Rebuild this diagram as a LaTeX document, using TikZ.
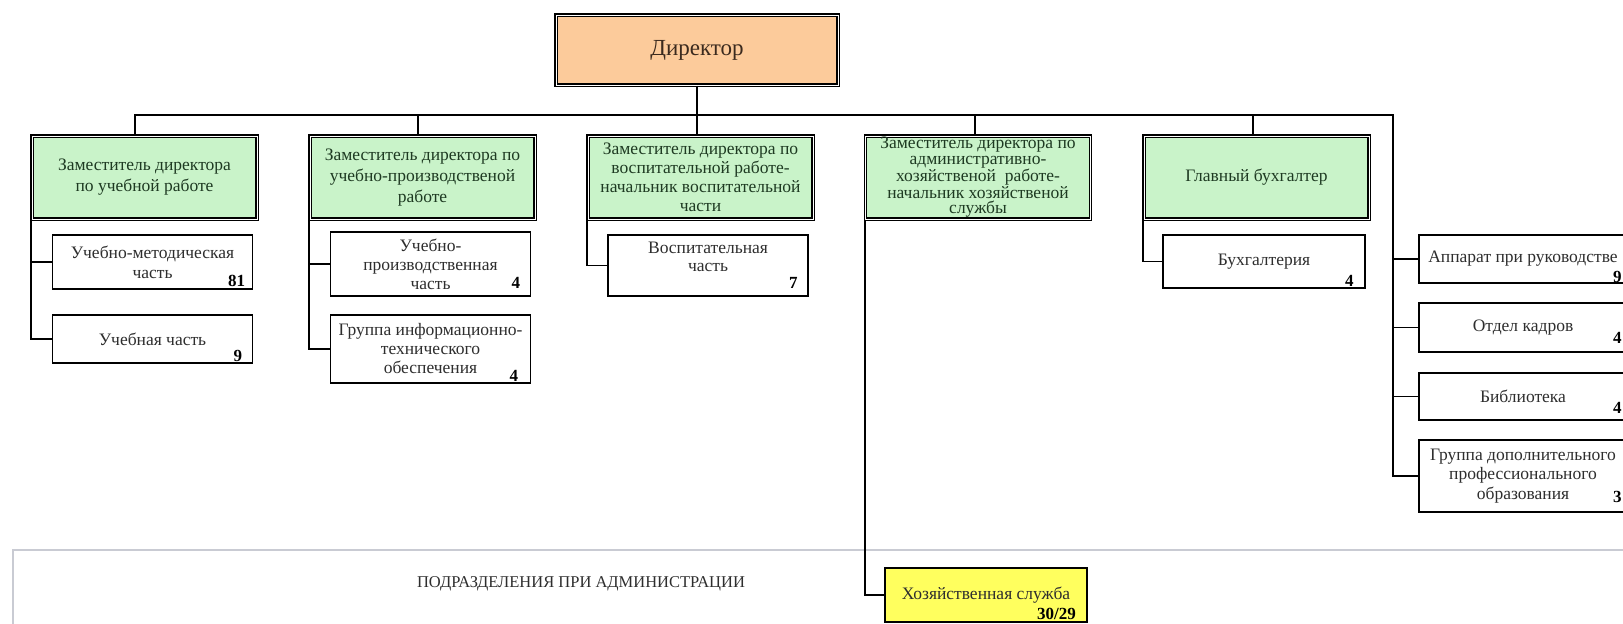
\documentclass[tikz,border=0pt]{standalone}
\usepackage{fontspec}
\setmainfont{Liberation Serif}
\definecolor{dirfill}{HTML}{FCCB9B}
\definecolor{depfill}{HTML}{C9F3C9}
\definecolor{yelfill}{HTML}{FFFF5E}
\definecolor{dirtext}{HTML}{3B2A1E}
\definecolor{deptext}{HTML}{1E3A22}
\definecolor{subtext}{HTML}{2E2E2E}
\definecolor{panelgray}{HTML}{C9CBD3}
\begin{document}
\begin{tikzpicture}[x=1pt,y=-1pt,
  dirbox/.style={draw=black,line width=1.4pt,double=white,double distance=1pt,fill=dirfill,minimum width=282pt,minimum height=70pt,inner sep=0pt,text=dirtext,font=\fontsize{23}{26}\selectfont},
  depbox/.style={draw=black,line width=1.3pt,double=white,double distance=0.9pt,fill=depfill,minimum width=225pt,minimum height=83pt,inner sep=1pt,align=center,text=deptext},
  subbox/.style={draw=black,line width=1.5pt,fill=white,minimum width=200pt,inner sep=1pt,align=center,text=subtext,font=\fontsize{17.5}{20}\selectfont},
  rbox/.style={subbox,minimum width=208pt},
  num/.style={inner sep=0pt,font=\bfseries\fontsize{17}{17}\selectfont,text=black},
  conn/.style={draw=black,line width=1.8pt},
  panelline/.style={draw=panelgray,line width=1.2pt},
]
\useasboundingbox (0,0) rectangle (1623,624);
\clip (0,0) rectangle (1623,624);
\fill[white] (0,0) rectangle (1623,624);

% bottom panel
\draw[panelline] (13,624) -- (13,550) -- (1623,550);
\node[text=subtext,font=\fontsize{16.5}{18}\selectfont,inner sep=0pt] (ptitle) at (581,584) {ПОДРАЗДЕЛЕНИЯ ПРИ АДМИНИСТРАЦИИ};

% director
\node[dirbox] (dir) at (697,50) {Директор};

% deputies
\node[depbox,font=\fontsize{17.5}{21}\selectfont] (d1) at (144.5,177.5) {Заместитель директора\\по учебной работе};
\node[depbox,font=\fontsize{17.5}{21}\selectfont] (d2) at (422.5,177.5) {Заместитель директора по\\учебно-производственой\\работе};
\node[depbox,font=\fontsize{17.5}{19}\selectfont] (d3) at (700.5,177.5) {Заместитель директора по\\воспитательной работе-\\начальник воспитательной\\части};
\node[depbox,font=\fontsize{17.5}{15.5}\selectfont] (d4) at (978,177.5) {Заместитель директора по\\административно-\\хозяйственой\ \ работе-\\начальник хозяйственой\\службы};
\node[depbox,font=\fontsize{17.5}{21}\selectfont] (d5) at (1256.5,177.5) {Главный бухгалтер};

% sub units
\node[subbox,minimum height=54pt] (s11) at (152.5,262) {Учебно-методическая\\часть};
\node[subbox,minimum height=48pt] (s12) at (152.5,339) {Учебная часть};
\node[subbox,minimum height=64pt,font=\fontsize{17.5}{19}\selectfont] (s21) at (430.5,264) {Учебно-\\производственная\\часть};
\node[subbox,minimum height=68pt,font=\fontsize{17.5}{19}\selectfont] (s22) at (430.5,349) {Группа информационно-\\технического\\обеспечения};
\node[subbox,minimum height=61pt,font=\fontsize{17.5}{18}\selectfont] (s31) at (708,265.5) {Воспитательная\\часть\\\mbox{}};
\node[subbox,minimum width=202pt,minimum height=54pt,fill=yelfill,line width=2pt] (s41) at (986,595) {Хозяйственная служба};
\node[subbox,minimum width=202pt,minimum height=53pt] (s51) at (1264,261.5) {Бухгалтерия};

% right column
\node[rbox,minimum height=48pt] (r1) at (1523,259) {Аппарат при руководстве};
\node[rbox,minimum height=49pt] (r2) at (1523,327.5) {Отдел кадров};
\node[rbox,minimum height=47pt] (r3) at (1523,396.5) {Библиотека};
\node[rbox,minimum height=72pt,font=\fontsize{17.5}{19.5}\selectfont] (r4) at (1523,476) {Группа дополнительного\\профессионального\\образования};

% numbers
\node[num,anchor=base east] (n11) at ([xshift=-8pt,yshift=3pt]s11.south east) {81};
\node[num,anchor=base east] (n12) at ([xshift=-11pt,yshift=2pt]s12.south east) {9};
\node[num,anchor=base east] (n21) at ([xshift=-11pt,yshift=8pt]s21.south east) {4};
\node[num,anchor=base east] (n22) at ([xshift=-13pt,yshift=2pt]s22.south east) {4};
\node[num,anchor=base east] (n31) at ([xshift=-11pt,yshift=8pt]s31.south east) {7};
\node[num,anchor=base east] (n41) at ([xshift=-12pt,yshift=4pt]s41.south east) {30/29};
\node[num,anchor=base east] (n51) at ([xshift=-12pt,yshift=2pt]s51.south east) {4};
\node[num,anchor=base east] (nr1) at ([xshift=-6pt,yshift=1pt]r1.south east) {9};
\node[num,anchor=base east] (nr2) at ([xshift=-6pt,yshift=9pt]r2.south east) {4};
\node[num,anchor=base east] (nr3) at ([xshift=-6pt,yshift=7pt]r3.south east) {4};
\node[num,anchor=base east] (nr4) at ([xshift=-6pt,yshift=10pt]r4.south east) {3};

% bus
\coordinate (busL) at (135,115);
\coordinate (busR) at (1393,115);
\draw[conn] (dir.south) -- (dir.south |- d3.north);
\draw[conn] ([xshift=-9.5pt]d1.north) -- (busL) -- (busR) -- (busR |- r4.west) -- (r4.west);
\draw[conn] ([xshift=-4.5pt]d2.north) -- ([xshift=-4.5pt]d2.north |- busL);
\draw[conn] ([xshift=-3pt]d4.north) -- ([xshift=-3pt]d4.north |- busL);
\draw[conn] ([xshift=-3.5pt]d5.north) -- ([xshift=-3.5pt]d5.north |- busL);
\draw[conn] (busR |- r1.west) -- (r1.west);
\draw[conn] (busR |- r2.west) -- (r2.west);
\draw[conn] (busR |- r3.west) -- (r3.west);

% columns
\draw[conn] (d1.south west) |- (s12.west);
\draw[conn] (d1.south west |- s11.west) -- (s11.west);
\draw[conn] (d2.south west) |- (s22.west);
\draw[conn] (d2.south west |- s21.west) -- (s21.west);
\draw[conn] (d3.south west) |- (s31.west);
\draw[conn] (d4.south west) |- (s41.west);
\draw[conn] (d5.south west) |- (s51.west);
\end{tikzpicture}
\end{document}
